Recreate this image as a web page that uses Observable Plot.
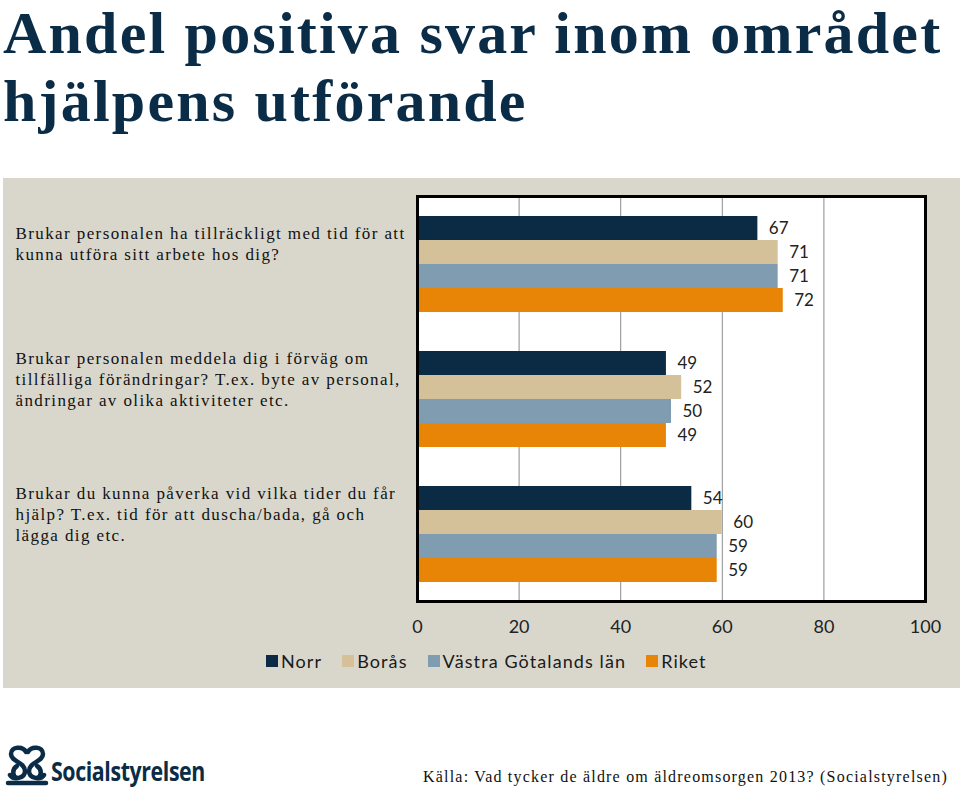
<!DOCTYPE html>
<html>
<head>
<meta charset="utf-8">
<script src="https://cdn.jsdelivr.net/npm/d3@7"></script>
<script src="https://cdn.jsdelivr.net/npm/@observablehq/plot@0.6"></script>
<style>
  html, body { margin: 0; padding: 0; background: #fff; }
  body { width: 960px; height: 792px; position: relative; overflow: hidden; }
  .tline { position: absolute; left: 3px; font-family: "Liberation Serif", serif; font-weight: bold;
           font-size: 60px; line-height: 66px; letter-spacing: 2.2px; color: #0b2c46; white-space: nowrap; }
  #panel { position: absolute; left: 3px; top: 178px; width: 957px; height: 510px; background: #d9d7cc; }
  #chart { position: absolute; left: 0; top: 0; }
  #legend { position: absolute; left: 266px; top: 650px; display: flex; align-items: center; gap: 20px;
            font-family: Lato, sans-serif; font-size: 18px; letter-spacing: 1.1px; color: #1a1a1a; }
  #legend .item { display: flex; align-items: center; gap: 3px; }
  #legend .sw { width: 12px; height: 12px; display: inline-block; }
  #logo { position: absolute; left: 5px; top: 744px; display: flex; align-items: flex-end; }
  #logo span { display: inline-block; font-family: "Open Sans", sans-serif; font-weight: bold; font-size: 27px;
               color: #0b2c46; letter-spacing: -0.5px; line-height: 30px; margin-left: 2px;
               transform: scaleX(0.79); transform-origin: left bottom; }
  #source { position: absolute; right: 12px; top: 768px; font-family: "Liberation Serif", serif; font-size: 16px;
            letter-spacing: 1.2px; color: #111; white-space: nowrap; }
  g[font-family="Liberation Serif"] { letter-spacing: 1.4px; }
</style>
</head>
<body>
<script>
// ---- data ----
const titleLines = ["Andel positiva svar inom området", "hjälpens utförande"];
const questions = [
  "Brukar personalen ha tillräckligt med tid för att\nkunna utföra sitt arbete hos dig?",
  "Brukar personalen meddela dig i förväg om\ntillfälliga förändringar? T.ex. byte av personal,\nändringar av olika aktiviteter etc.",
  "Brukar du kunna påverka vid vilka tider du får\nhjälp? T.ex. tid för att duscha/bada, gå och\nlägga dig etc."
];
const series = ["Norr", "Borås", "Västra Götalands län", "Riket"];
const norr   = [67, 49, 54];
const boras  = [71, 52, 60];
const vgl    = [71, 50, 59];
const riket  = [72, 49, 59];
const colors = ["#0b2a44", "#d4c19a", "#7f9cb1", "#e88406"];
const xTicks = [0, 20, 40, 60, 80, 100];
const gridLines = [20, 40, 60, 80];
const source = "Källa: Vad tycker de äldre om äldreomsorgen 2013? (Socialstyrelsen)";
const brand = "Socialstyrelsen";

const valuesBySeries = [norr, boras, vgl, riket];
const rows = [];
questions.forEach((q, qi) => series.forEach((s, si) => rows.push({question: q, series: s, value: valuesBySeries[si][qi]})));

// ---- title ----
titleLines.forEach((t, i) => {
  const d = document.createElement("div");
  d.className = "tline";
  d.style.top = (i * 68) + "px";
  d.textContent = t;
  document.body.appendChild(d);
});

// ---- panel + chart ----
const panel = document.createElement("div");
panel.id = "panel";
document.body.appendChild(panel);

const chart = Plot.plot({
  width: 957, height: 470,
  marginLeft: 414, marginRight: 35, marginTop: 18, marginBottom: 47,
  style: {background: "transparent", fontFamily: "Lato, sans-serif", fontSize: "18px", color: "#222"},
  x: {domain: [0, 100], ticks: xTicks, tickSize: 0, tickPadding: 19, label: null},
  y: {domain: series, axis: null, paddingInner: 0, paddingOuter: 0.75},
  fy: {domain: questions, axis: null, padding: 0},
  color: {domain: series, range: colors},
  marks: [
    Plot.frame({fill: "white", facet: "super"}),
    Plot.ruleX(gridLines, {stroke: "#8c8c8c", strokeWidth: 1}),
    Plot.barX(rows, {x: "value", y: "series", fy: "question", fill: "series"}),
    Plot.text(rows, {x: "value", y: "series", fy: "question", text: d => String(d.value),
                     textAnchor: "start", dx: 11, fontSize: 17, fill: "#222"}),
    Plot.text(questions, {fy: d => d, text: d => d, frameAnchor: "left", textAnchor: "start",
                          dx: -402, dy: -21, lineHeight: 1.25, fontFamily: "Liberation Serif",
                          fontSize: 17, fill: "#111"}),
    Plot.frame({stroke: "black", strokeWidth: 3, facet: "super"})
  ]
});
chart.id = "chart";
panel.appendChild(chart);

// ---- legend ----
const legend = document.createElement("div");
legend.id = "legend";
series.forEach((s, i) => {
  const item = document.createElement("div");
  item.className = "item";
  item.innerHTML = `<span class="sw" style="background:${colors[i]}"></span><span>${s}</span>`;
  legend.appendChild(item);
});
document.body.appendChild(legend);

// ---- footer ----
const logo = document.createElement("div");
logo.id = "logo";
logo.innerHTML = `<svg width="44" height="42" viewBox="0 0 44 42">
  <g fill="none" stroke="#0b2c46" stroke-width="4.5" stroke-linecap="round">
    <path d="M21 8 C18 2, 6 2, 6 10 C6 18, 20 18, 20 27 C20 35, 8 36, 5 31"/>
    <path d="M23 8 C26 2, 38 2, 38 10 C38 18, 24 18, 24 27 C24 35, 36 36, 39 31"/>
    <path d="M12 22 C7 25, 7 32, 12 34"/>
    <path d="M32 22 C37 25, 37 32, 32 34"/>
    <path d="M3 39 L41 39"/>
  </g></svg><span>${brand}</span>`;
document.body.appendChild(logo);

const src = document.createElement("div");
src.id = "source";
src.textContent = source;
document.body.appendChild(src);
</script>
</body>
</html>
